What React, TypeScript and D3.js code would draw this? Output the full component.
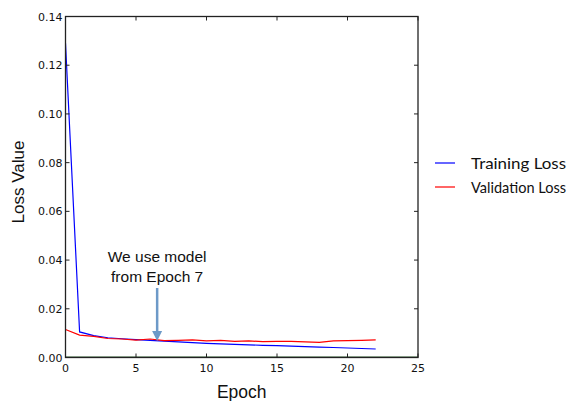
import React from "react";
import * as d3 from "d3";

const epochs = d3.range(0, 23);
const trainLoss = [0.129, 0.0105, 0.009, 0.0081, 0.0077, 0.0073, 0.007, 0.0067, 0.0064, 0.0061, 0.0058, 0.0056, 0.0054, 0.0052, 0.005, 0.0049, 0.0047, 0.0045, 0.0043, 0.0041, 0.0039, 0.0037, 0.0035];
const valLoss = [0.0115, 0.0092, 0.0087, 0.0078, 0.0076, 0.0071, 0.0076, 0.0069, 0.007, 0.0072, 0.0068, 0.007, 0.0066, 0.0068, 0.0065, 0.0066, 0.0066, 0.0064, 0.0062, 0.0068, 0.0069, 0.007, 0.0072];
const xTicks = [0, 5, 10, 15, 20, 25];
const yTicks = [0, 0.02, 0.04, 0.06, 0.08, 0.1, 0.12, 0.14];
const legendItems = [
  { name: "Training Loss", color: "#0000ff" },
  { name: "Validation Loss", color: "#ff0000" },
];

export default function App() {
  const W = 568, H = 401;
  const left = 65.5, right = 418, top = 16.5, bottom = 357.5;
  const x = d3.scaleLinear().domain([0, 25]).range([left, right]);
  const y = d3.scaleLinear().domain([0, 0.14]).range([bottom, top]);
  const line = d3.line<number>().x((d, i) => x(epochs[i])).y(d => y(d));
  const tickFont = "DejaVu Sans, sans-serif";
  const labelFont = "Liberation Sans, Arial, sans-serif";
  const ax = "#222";
  const arrowX = x(6.5);

  return (
    <svg width={W} height={H} style={{ position: "absolute", left: 0, top: 0, background: "#fff" }}>
      <defs>
        <clipPath id="plot">
          <rect x={left} y={top} width={right - left} height={bottom - top} />
        </clipPath>
      </defs>
      <g clipPath="url(#plot)">
        <path d={line(trainLoss) || ""} fill="none" stroke="#0000ff" strokeWidth={1.2} />
        <path d={line(valLoss) || ""} fill="none" stroke="#ff0000" strokeWidth={1.2} />
      </g>
      <line x1={left} x2={right} y1={bottom - 0.5} y2={bottom - 0.5} stroke="#2e5e2e" strokeWidth={1} />
      <rect x={left} y={top} width={right - left} height={bottom - top} fill="none" stroke={ax} strokeWidth={1.3} />
      {xTicks.map(t => (
        <g key={"x" + t}>
          <line x1={x(t)} x2={x(t)} y1={bottom} y2={bottom - 4} stroke={ax} />
          <line x1={x(t)} x2={x(t)} y1={top} y2={top + 4} stroke={ax} />
          <text x={x(t)} y={bottom + 14} textAnchor="middle" fontFamily={tickFont} fontSize={11} fill="#111">{t}</text>
        </g>
      ))}
      {yTicks.map(t => (
        <g key={"y" + t}>
          <line x1={left} x2={left + 4} y1={y(t)} y2={y(t)} stroke={ax} />
          <line x1={right} x2={right - 4} y1={y(t)} y2={y(t)} stroke={ax} />
          <text x={left - 3} y={y(t) + 4} textAnchor="end" fontFamily={tickFont} fontSize={11} fill="#111">{t.toFixed(2)}</text>
        </g>
      ))}
      <text x={(left + right) / 2} y={398} textAnchor="middle" fontFamily={labelFont} fontSize={17.5} fill="#111">Epoch</text>
      <text transform={`translate(24, ${(top + bottom) / 2 - 5}) rotate(-90)`} textAnchor="middle" fontFamily={labelFont} fontSize={17} fill="#111">Loss Value</text>
      <text x={arrowX} y={262} textAnchor="middle" fontFamily={labelFont} fontSize={15.5} fill="#111">We use model</text>
      <text x={arrowX} y={281.5} textAnchor="middle" fontFamily={labelFont} fontSize={15.5} fill="#111">from Epoch 7</text>
      <line x1={arrowX} x2={arrowX} y1={288} y2={334} stroke="#6d9ac8" strokeWidth={2.5} />
      <path d={`M${arrowX - 5},${331} L${arrowX + 5},${331} L${arrowX},${341} Z`} fill="#6d9ac8" />
      {legendItems.map((it, i) => (
        <g key={it.name} transform={`translate(0, ${163 + i * 24})`}>
          <line x1={435} x2={455} y1={0} y2={0} stroke={it.color} strokeWidth={1.2} />
          <text x={471} y={5.5} fontFamily="Lato, sans-serif" fontSize={15} textLength={95} lengthAdjust="spacingAndGlyphs" fill="#111">{it.name}</text>
        </g>
      ))}
    </svg>
  );
}
